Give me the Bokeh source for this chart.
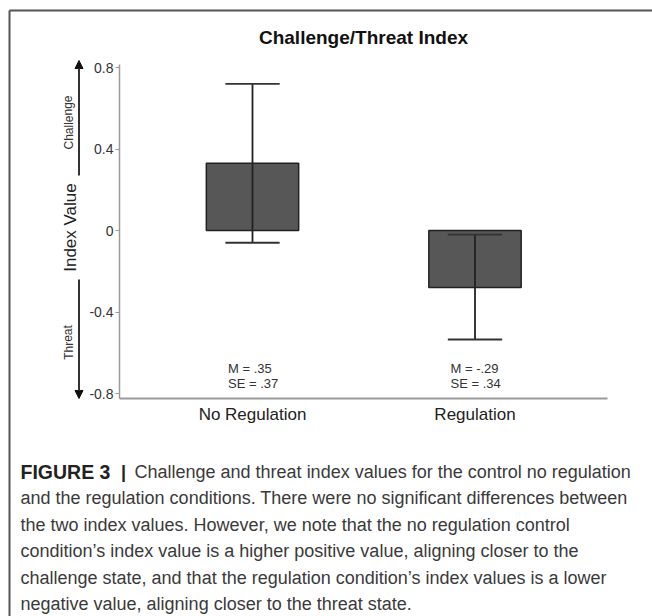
from bokeh.plotting import figure
from bokeh.models import Range1d, Label, Arrow, NormalHead, FixedTicker
from bokeh.embed import file_html
from bokeh.resources import INLINE

# ---------------- data ----------------
categories = ["No Regulation", "Regulation"]
cat_pos = [1, 2]
bar_values = [0.33, -0.28]
err_upper = [0.72, -0.02]
err_lower = [-0.06, -0.535]
stat_m = ["M = .35", "M = -.29"]
stat_se = ["SE = .37", "SE = .34"]
y_ticks = [-0.8, -0.4, 0, 0.4, 0.8]
y_tick_labels = ["-0.8", "-0.4", "0", "0.4", "0.8"]
y_axis_bounds = (-0.825, 0.815)
title_text = "Challenge/Threat Index"
y_label = "Index Value"
upper_state = "Challenge"
lower_state = "Threat"
caption_head = "FIGURE 3"
caption_first = "Challenge and threat index values for the control no regulation"
caption_lines = [
    "and the regulation conditions. There were no significant differences between",
    "the two index values. However, we note that the no regulation control",
    "condition\u2019s index value is a higher positive value, aligning closer to the",
    "challenge state, and that the regulation condition\u2019s index values is a lower",
    "negative value, aligning closer to the threat state.",
]

# ---------------- layout helpers (canvas pixels -> data) ----------------
W, H = 652, 616
X0_PX, XSCALE = 252.0, 222.5      # px of category 1, px per unit
Y0_PX, YSCALE = 230.0, 203.75     # px of value 0, px per unit


def px2x(px):
    return 1 + (px - X0_PX) / XSCALE


def py2y(py):
    return (Y0_PX - py) / YSCALE


FONT = "Liberation Sans"

p = figure(width=W, height=H, output_backend="svg", toolbar_location=None,
           x_range=Range1d(px2x(0), px2x(W)),
           y_range=Range1d(py2y(H), py2y(0)),
           min_border=0, min_border_left=0, min_border_right=0,
           min_border_top=0, min_border_bottom=0, tools="")
p.grid.visible = False
p.outline_line_color = None
p.background_fill_color = "white"
p.border_fill_color = "white"

x_left = px2x(119)
x_right = px2x(607)

# axes (placed inside the frame at fixed data locations)
ax_col = "#9a9a9a"
p.yaxis.fixed_location = x_left
p.yaxis.bounds = y_axis_bounds
p.yaxis.ticker = FixedTicker(ticks=y_ticks)
p.yaxis.major_label_overrides = {t: l for t, l in zip(y_ticks, y_tick_labels)}
p.yaxis.minor_tick_line_color = None
p.yaxis.major_tick_out = 4
p.yaxis.major_tick_in = 0
p.yaxis.major_label_standoff = 2
p.yaxis.axis_line_color = ax_col
p.yaxis.axis_line_width = 1.5
p.yaxis.major_tick_line_color = ax_col
p.yaxis.major_tick_line_width = 1.2
p.yaxis.major_label_text_font = FONT
p.yaxis.major_label_text_font_size = "14px"
p.yaxis.major_label_text_color = "#333333"

p.xaxis.fixed_location = y_axis_bounds[0]
p.xaxis.bounds = (x_left, x_right)
p.xaxis.ticker = FixedTicker(ticks=cat_pos)
p.xaxis.major_label_overrides = {c: n for c, n in zip(cat_pos, categories)}
p.xaxis.minor_tick_line_color = None
p.xaxis.major_tick_line_color = None
p.xaxis.major_tick_out = 0
p.xaxis.major_tick_in = 0
p.xaxis.major_label_standoff = 6
p.xaxis.axis_line_color = ax_col
p.xaxis.axis_line_width = 2
p.xaxis.major_label_text_font = FONT
p.xaxis.major_label_text_font_size = "17px"
p.xaxis.major_label_text_color = "#222222"

# bars
p.vbar(x=cat_pos, top=bar_values, bottom=0, width=0.415,
       fill_color="#575757", line_color="#222222", line_width=1.5)

# error bars
cap = 0.122
p.segment(x0=cat_pos, y0=err_lower, x1=cat_pos, y1=err_upper,
          line_color="#222222", line_width=1.8)
p.segment(x0=[c - cap for c in cat_pos], y0=err_upper,
          x1=[c + cap for c in cat_pos], y1=err_upper,
          line_color="#333333", line_width=1.8)
p.segment(x0=[c - cap for c in cat_pos], y0=err_lower,
          x1=[c + cap for c in cat_pos], y1=err_lower,
          line_color="#333333", line_width=1.8)

# M / SE annotations
for c, m, se in zip(cat_pos, stat_m, stat_se):
    p.add_layout(Label(x=c - 0.11, y=py2y(368), text=m, text_align="left",
                       text_baseline="middle", text_font=FONT,
                       text_font_size="13px", text_color="#333333"))
    p.add_layout(Label(x=c - 0.11, y=py2y(383), text=se, text_align="left",
                       text_baseline="middle", text_font=FONT,
                       text_font_size="13px", text_color="#333333"))

# title
p.add_layout(Label(x=(x_left + x_right) / 2, y=py2y(37), text=title_text,
                   text_align="center", text_baseline="middle", text_font=FONT,
                   text_font_size="19px", text_font_style="bold",
                   text_color="#111111"))

# y-axis label with state arrows
arrow_x = px2x(78.5)
p.add_layout(Arrow(x_start=arrow_x, y_start=py2y(175), x_end=arrow_x, y_end=py2y(60),
                   line_color="#333333", line_width=2,
                   end=NormalHead(size=8, fill_color="#111111", line_color="#111111")))
p.add_layout(Arrow(x_start=arrow_x, y_start=py2y(279), x_end=arrow_x, y_end=py2y(398),
                   line_color="#333333", line_width=2,
                   end=NormalHead(size=8, fill_color="#111111", line_color="#111111")))
p.add_layout(Label(x=px2x(70), y=py2y(227), text=y_label, angle=1.5708,
                   text_align="center", text_baseline="middle",
                   text_font=FONT, text_font_size="17px", text_color="#222222"))
p.add_layout(Label(x=px2x(68), y=py2y(122), text=upper_state, angle=1.5708,
                   text_align="center", text_baseline="middle",
                   text_font=FONT, text_font_size="12px", text_color="#333333"))
p.add_layout(Label(x=px2x(68), y=py2y(342), text=lower_state, angle=1.5708,
                   text_align="center", text_baseline="middle",
                   text_font=FONT, text_font_size="12px", text_color="#333333"))

# frame border (top and left edges of the figure panel)
p.add_layout(Arrow(x_start=px2x(9), y_start=py2y(10), x_end=px2x(W + 10), y_end=py2y(10),
                   end=None, line_color="#555555", line_width=2))
p.add_layout(Arrow(x_start=px2x(9), y_start=py2y(10), x_end=px2x(9), y_end=py2y(H + 10),
                   end=None, line_color="#555555", line_width=2))

# caption
CAP_FONT_SIZE = "18px"
cap_col = "#3a3a3a"
line_y = [471 + 26.5 * i for i in range(len(caption_lines) + 1)]
p.add_layout(Label(x=px2x(20), y=py2y(line_y[0]), text=caption_head, text_align="left",
                   text_baseline="middle", text_font=FONT,
                   text_font_size="19.5px", text_font_style="bold", text_color="#222222"))
p.add_layout(Label(x=px2x(123), y=py2y(line_y[0]), text="|", text_align="center",
                   text_baseline="middle", text_font=FONT,
                   text_font_size=CAP_FONT_SIZE, text_font_style="bold", text_color="#222222"))
p.add_layout(Label(x=px2x(134), y=py2y(line_y[0]), text=caption_first, text_align="left",
                   text_baseline="middle", text_font=FONT,
                   text_font_size=CAP_FONT_SIZE, text_color=cap_col))
for ly, txt in zip(line_y[1:], caption_lines):
    p.add_layout(Label(x=px2x(20), y=py2y(ly), text=txt, text_align="left",
                       text_baseline="middle", text_font=FONT,
                       text_font_size=CAP_FONT_SIZE, text_color=cap_col))

open("out.html", "w").write(file_html(p, INLINE))
